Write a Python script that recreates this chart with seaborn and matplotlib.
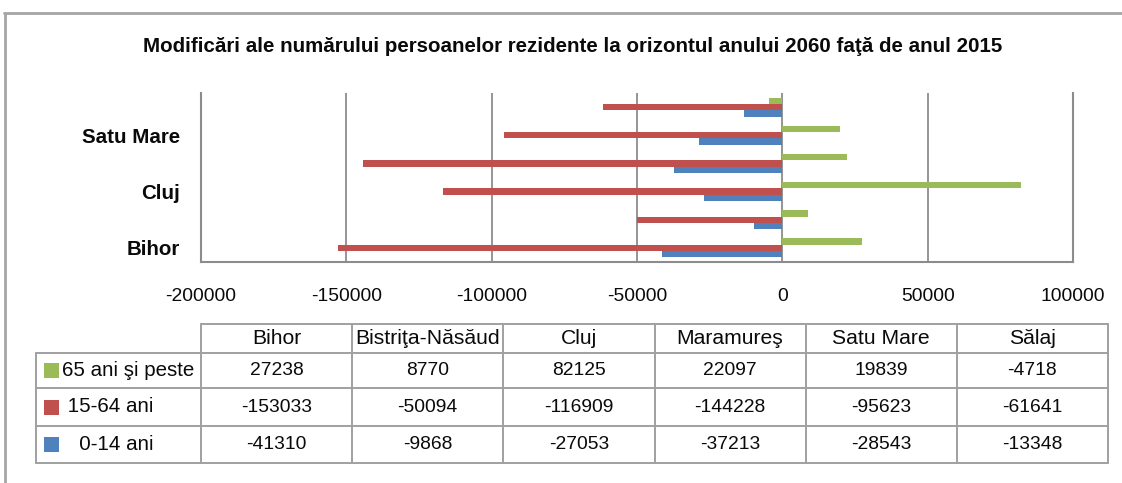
import numpy as np
import pandas as pd
import matplotlib
matplotlib.use("Agg")
import matplotlib.pyplot as plt
from matplotlib import font_manager
from matplotlib.lines import Line2D
from matplotlib.patches import Rectangle
import seaborn as sns

# ---------------- data ----------------
counties = ["Bihor", "Bistriţa-Năsăud", "Cluj", "Maramureş", "Satu Mare", "Sălaj"]
series = ["65 ani şi peste", "15-64 ani", "0-14 ani"]
series_labels = ["65 ani şi peste", " 15-64 ani", "   0-14 ani"]
v65 = [27238, 8770, 82125, 22097, 19839, -4718]
v1564 = [-153033, -50094, -116909, -144228, -95623, -61641]
v014 = [-41310, -9868, -27053, -37213, -28543, -13348]
colors = ["#9BBB59", "#C0504D", "#4F81BD"]
title = "Modificări ale numărului persoanelor rezidente la orizontul anului 2060 faţă de anul 2015"
xticks = [-200000, -150000, -100000, -50000, 0, 50000, 100000]
shown_ylabels = ["Bihor", "Cluj", "Satu Mare"]

values = [v65, v1564, v014]
df = pd.DataFrame({
    "judet": counties * 3,
    "grupa": [s for s in series for _ in counties],
    "val": v65 + v1564 + v014,
})

sns.set_theme(style="white")
names = {f.name for f in font_manager.fontManager.ttflist}
if "Liberation Sans Narrow" in names:
    fam = "Liberation Sans Narrow"
    k_num, k_txt, k_title = 16.5, 16.5, 16.0
else:
    fam = "Liberation Sans"
    k_num, k_txt, k_title = 13.9, 14.8, 14.8
plt.rcParams["font.family"] = [fam, "DejaVu Sans"]

W, H = 1122, 483
fig = plt.figure(figsize=(W / 100, H / 100), dpi=100)
fig.patch.set_facecolor("white")

def fx(px):
    return px / W

def fy(py):
    return 1 - py / H

txt_c = "#0A0A0A"
ax = fig.add_axes([fx(201), fy(262), fx(1073) - fx(201), fy(93) - fy(262)])
order = counties[::-1]
sns.barplot(data=df, x="val", y="judet", hue="grupa", order=order,
            hue_order=series, palette=colors, orient="h", width=0.67,
            saturation=1, legend=False, ax=ax, linewidth=0)

grid_c = "#8C8C8C"
ax.set_xlim(-200000, 100000)
ax.set_xticks(xticks)
ax.set_xticklabels([str(t) for t in xticks], fontsize=k_num, color=txt_c)
ax.tick_params(axis="x", length=0, pad=19)
ax.set_yticks(range(len(order)))
ax.set_yticklabels([c if c in shown_ylabels else "" for c in order],
                   fontsize=k_txt, fontweight="bold", color=txt_c)
ax.tick_params(axis="y", length=0, pad=15)
ax.set_xlabel("")
ax.set_ylabel("")
ax.grid(axis="x", color=grid_c, linewidth=1.3)
ax.set_axisbelow(True)
for s in ["left", "bottom", "right"]:
    ax.spines[s].set_visible(True)
    ax.spines[s].set_color(grid_c)
    ax.spines[s].set_linewidth(1.5)
ax.spines["top"].set_visible(False)

fig.text(0.5 * (fx(145) + fx(1000)), fy(47), title, ha="center", va="center",
         fontsize=k_title, fontweight="bold", color=txt_c)

# outer chart frame
frame_c = "#A6A6A6"
fig.add_artist(Line2D([fx(4), 1.0], [fy(13), fy(13)], color=frame_c, linewidth=2))
fig.add_artist(Line2D([fx(5), fx(5)], [fy(13), 0.0], color=frame_c, linewidth=2))

# data table
tab_c = "#A0A0A0"
col_x = [201 + i * (1108 - 201) / 6 for i in range(7)]
rows_y = [324, 353, 388, 426, 463]
lw = 1.4
fig.add_artist(Line2D([fx(201), fx(1108)], [fy(324), fy(324)], color=tab_c, linewidth=lw))
for y in rows_y[1:]:
    fig.add_artist(Line2D([fx(36), fx(1108)], [fy(y), fy(y)], color=tab_c, linewidth=lw))
fig.add_artist(Line2D([fx(36), fx(36)], [fy(353), fy(463)], color=tab_c, linewidth=lw))
for x in col_x:
    fig.add_artist(Line2D([fx(x), fx(x)], [fy(324), fy(463)], color=tab_c, linewidth=lw))

for i, c in enumerate(counties):
    cx = 0.5 * (col_x[i] + col_x[i + 1])
    fig.text(fx(cx), fy(339), c, ha="center", va="center", fontsize=k_txt * 1.03, color=txt_c)
for r, (lab, vals, col) in enumerate(zip(series_labels, values, colors)):
    cy = 0.5 * (rows_y[r + 1] + rows_y[r + 2])
    fig.add_artist(Rectangle((fx(44), fy(cy + 7.5)), fx(59) - fx(44), fy(cy - 7.5) - fy(cy + 7.5),
                             facecolor=col, edgecolor="none", transform=fig.transFigure))
    fig.text(fx(62), fy(cy), lab, ha="left", va="center", fontsize=k_txt, color=txt_c)
    for i, v in enumerate(vals):
        cx = 0.5 * (col_x[i] + col_x[i + 1])
        fig.text(fx(cx), fy(cy), str(v), ha="center", va="center", fontsize=k_num, color=txt_c)

fig.savefig("out.png", dpi=100, facecolor="white")
